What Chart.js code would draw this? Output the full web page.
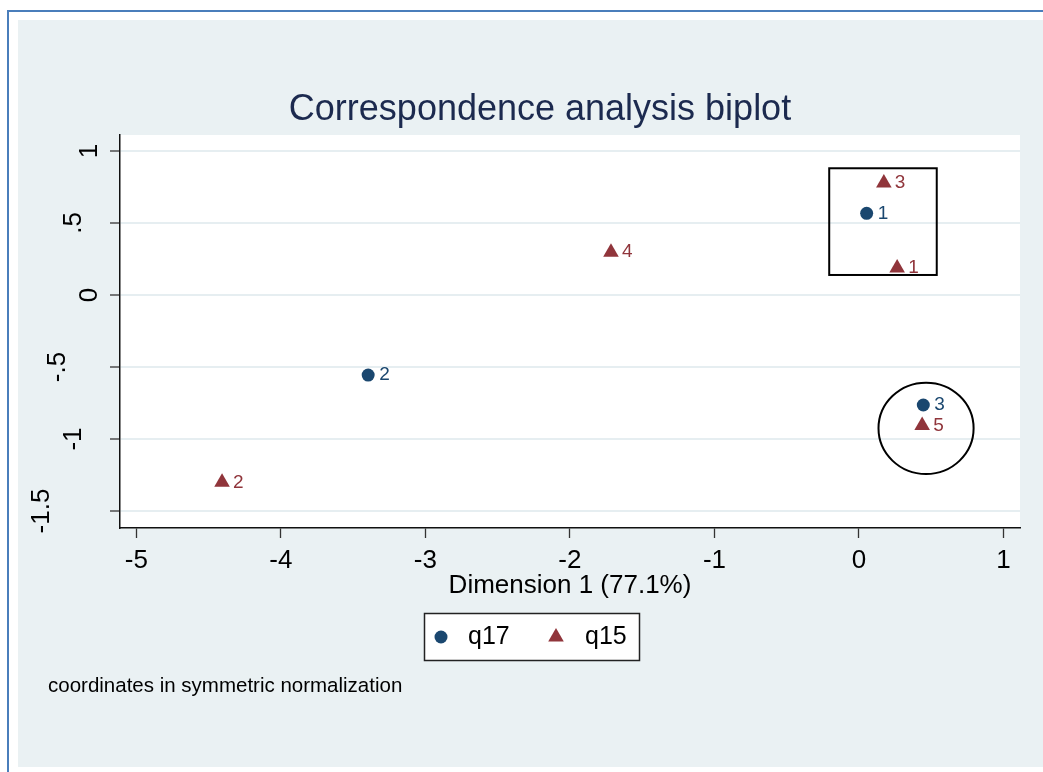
<!DOCTYPE html>
<html>
<head>
<meta charset="utf-8">
<title>Correspondence analysis biplot</title>
<script src="https://cdn.jsdelivr.net/npm/chart.js@4.4.1/dist/chart.umd.min.js"></script>
<style>
  html, body { margin: 0; padding: 0; background: #ffffff; }
  canvas { display: block; }
</style>
</head>
<body>
<canvas id="biplot" width="1043" height="772"></canvas>
<script>
const q17Labels = ["1", "2", "3"];
const q17Dim1 = [0.053, -3.396, 0.445];
const q17Dim2 = [0.567, -0.556, -0.764];

const q15Labels = ["1", "2", "3", "4", "5"];
const q15Dim1 = [0.264, -4.407, 0.172, -1.716, 0.437];
const q15Dim2 = [0.188, -1.301, 0.778, 0.297, -0.907];

const xTicks = [-5, -4, -3, -2, -1, 0, 1];
const yTicks = [-1.5, -1, -0.5, 0, 0.5, 1];
const yTickLabels = ["-1.5", "-1", "-.5", "0", ".5", "1"];

// highlighted groups, in data units
const boxDim1 = [-0.206, 0.538];
const boxDim2 = [0.139, 0.880];
const ringCenter = [0.464, -0.926];
const ringRadius = [0.329, 0.317];

const FONT = '"Liberation Sans", Arial, Helvetica, sans-serif';
const BG = "#eaf1f3";
const NAVY = "#1a476f";
const MAROON = "#90353b";

Chart.defaults.font.family = FONT;

function points(xs, ys) {
  return xs.map((x, i) => ({ x, y: ys[i] }));
}

const backdrop = {
  id: "backdrop",
  beforeDraw(chart) {
    const { ctx, chartArea: a, width, height } = chart;
    ctx.save();
    ctx.fillStyle = "#ffffff";
    ctx.fillRect(0, 0, width, height);
    ctx.fillStyle = BG;
    ctx.fillRect(18, 20, width - 18, 747);
    ctx.strokeStyle = "#4a7ebb";
    ctx.lineWidth = 2;
    ctx.beginPath();
    ctx.moveTo(8, height);
    ctx.lineTo(8, 11);
    ctx.lineTo(width, 11);
    ctx.stroke();
    ctx.fillStyle = "#ffffff";
    ctx.fillRect(a.left, a.top, a.right - a.left, a.bottom - a.top);

    ctx.fillStyle = "#1c2a4f";
    ctx.font = "36px " + FONT;
    ctx.textAlign = "center";
    ctx.textBaseline = "alphabetic";
    ctx.fillText("Correspondence analysis biplot", 540, 120);
    ctx.restore();
  }
};

const marks = {
  id: "marks",
  afterDatasetsDraw(chart) {
    const { ctx, scales: { x, y } } = chart;
    ctx.save();

    // point names
    ctx.font = "19px " + FONT;
    ctx.textAlign = "left";
    ctx.textBaseline = "middle";
    chart.data.datasets.forEach((ds, i) => {
      ctx.fillStyle = ds.backgroundColor;
      chart.getDatasetMeta(i).data.forEach((pt, j) => {
        ctx.fillText(ds.pointNames[j], pt.x + 11, pt.y);
      });
    });

    // box and ring around the close groups
    ctx.strokeStyle = "#000";
    ctx.lineWidth = 2;
    const bx0 = x.getPixelForValue(boxDim1[0]);
    const bx1 = x.getPixelForValue(boxDim1[1]);
    const by0 = y.getPixelForValue(boxDim2[1]);
    const by1 = y.getPixelForValue(boxDim2[0]);
    ctx.strokeRect(bx0, by0, bx1 - bx0, by1 - by0);

    const cx = x.getPixelForValue(ringCenter[0]);
    const cy = y.getPixelForValue(ringCenter[1]);
    const rx = Math.abs(x.getPixelForValue(ringCenter[0] + ringRadius[0]) - cx);
    const ry = Math.abs(y.getPixelForValue(ringCenter[1] + ringRadius[1]) - cy);
    ctx.beginPath();
    ctx.ellipse(cx, cy, rx, ry, 0, 0, Math.PI * 2);
    ctx.stroke();
    ctx.restore();
  },
  afterDraw(chart) {
    const { ctx, scales: { y } } = chart;
    ctx.save();

    // rotated y tick labels, Stata style
    ctx.font = "26px " + FONT;
    ctx.fillStyle = "#000";
    ctx.textAlign = "center";
    ctx.textBaseline = "middle";
    yTicks.forEach((v, i) => {
      const label = yTickLabels[i];
      ctx.save();
      ctx.translate(y.left + 106 - 16 * label.length, y.getPixelForValue(v));
      ctx.rotate(-Math.PI / 2);
      ctx.fillText(label, 0, 0);
      ctx.restore();
    });

    // legend
    ctx.fillStyle = "#ffffff";
    ctx.fillRect(424, 613, 216, 48);
    ctx.strokeStyle = "#222";
    ctx.lineWidth = 1.5;
    ctx.strokeRect(424.5, 613.5, 215, 47);
    const slots = [441, 556];
    const textX = [468, 585];
    ctx.font = "25px " + FONT;
    ctx.textAlign = "left";
    chart.data.datasets.forEach((ds, i) => {
      ctx.fillStyle = ds.backgroundColor;
      Chart.helpers.drawPoint(ctx, {
        pointStyle: ds.pointStyle,
        radius: ds.pointRadius,
        rotation: 0,
        borderWidth: 0
      }, slots[i], 637);
      ctx.fillStyle = "#000";
      ctx.fillText(ds.label, textX[i], 637);
    });

    // note
    ctx.font = "20.5px " + FONT;
    ctx.textBaseline = "alphabetic";
    ctx.fillStyle = "#000";
    ctx.fillText("coordinates in symmetric normalization", 48, 692);
    ctx.restore();
  }
};

new Chart(document.getElementById("biplot"), {
  type: "scatter",
  data: {
    datasets: [
      {
        label: "q17",
        data: points(q17Dim1, q17Dim2),
        pointNames: q17Labels,
        pointStyle: "circle",
        pointRadius: 6.5,
        backgroundColor: NAVY,
        borderWidth: 0,
        clip: false
      },
      {
        label: "q15",
        data: points(q15Dim1, q15Dim2),
        pointNames: q15Labels,
        pointStyle: "triangle",
        pointRadius: 9,
        backgroundColor: MAROON,
        borderWidth: 0,
        clip: false
      }
    ]
  },
  options: {
    responsive: false,
    animation: false,
    events: [],
    layout: { padding: { left: 0, top: 135, right: 23, bottom: 0 } },
    plugins: {
      legend: { display: false },
      title: { display: false },
      tooltip: { enabled: false }
    },
    scales: {
      x: {
        type: "linear",
        min: -5.113,
        max: 1.114,
        afterBuildTicks: (s) => { s.ticks = xTicks.map((v) => ({ value: v })); },
        afterFit: (s) => { s.height = 244; },
        grid: { drawOnChartArea: false, drawTicks: true, tickLength: 10, tickColor: "#333", tickWidth: 1.3 },
        border: { display: true, color: "#111", width: 1.5 },
        ticks: {
          color: "#000",
          font: { size: 26 },
          padding: 7,
          maxRotation: 0,
          autoSkip: false,
          callback: (v) => String(v)
        },
        title: {
          display: true,
          text: "Dimension 1 (77.1%)",
          color: "#000",
          font: { size: 26 },
          padding: { top: 0, bottom: 171 }
        }
      },
      y: {
        type: "linear",
        min: -1.618,
        max: 1.111,
        afterBuildTicks: (s) => { s.ticks = yTicks.map((v) => ({ value: v })); },
        afterFit: (s) => { s.width = 120; },
        grid: { color: "#e6eef1", lineWidth: 2, drawTicks: true, tickLength: 10, tickColor: "#333", tickWidth: 1.3 },
        border: { display: true, color: "#111", width: 1.5 },
        ticks: { display: false }
      }
    }
  },
  plugins: [backdrop, marks]
});
</script>
</body>
</html>
